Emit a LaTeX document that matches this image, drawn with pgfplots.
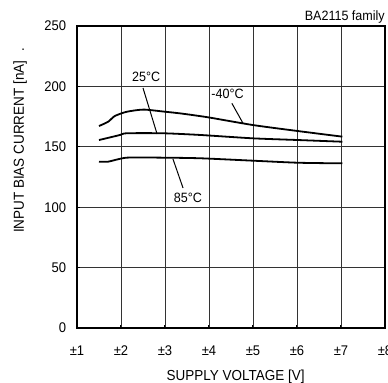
\documentclass[border=0pt]{standalone}
\usepackage{fontspec}
\setmainfont[FakeStretch=0.93]{Liberation Sans}
\usepackage{pgfplots}
\pgfplotsset{compat=1.18}
\begin{document}
\begin{tikzpicture}
\fontsize{14bp}{16bp}\selectfont
\path[use as bounding box] (-77bp,-55bp) rectangle (311bp,328bp);
\begin{axis}[
  at={(0,0)}, anchor=origin,
  scale only axis,
  width=308bp, height=302bp,
  xmin=1, xmax=8, ymin=0, ymax=250,
  xtick={1,2,3,4,5,6,7,8},
  xticklabels={±1,±2,±3,±4,±5,±6,±7,±8},
  ytick={0,50,100,150,200,250},
  /pgf/number format/assume math mode=true,
  grid=major,
  major grid style={black!80, line width=0.7bp},
  axis line style={line width=1.8bp},
  tick style={black, line width=1bp},
  tick align=inside,
  major tick length=3bp,
  xtick pos=bottom, ytick pos=left,
  tick label style={font=\fontsize{14bp}{16bp}\selectfont},
  label style={font=\fontsize{14.5bp}{16bp}\selectfont},
  xticklabel style={yshift=-13bp},
  yticklabel style={xshift=-6bp},
  xlabel={SUPPLY VOLTAGE [V]},
  ylabel={INPUT BIAS CURRENT [nA]},
  xlabel style={at={(axis description cs:0.515,-0.163)}, anchor=center},
  ylabel style={at={(axis description cs:-0.185,0.6)}, anchor=center},
  clip=false,
]
% -40 C
\addplot[black, line width=1.8bp, smooth, tension=0.4] coordinates {
(1.5,167.2) (1.71,170.8) (1.86,175.5) (2.13,179) (2.51,180.8) (2.96,179.2) (3.38,177.5) (3.98,174.4) (5.0,168) (6.03,163) (7.03,158.4)};
% 25 C
\addplot[black, line width=1.8bp, smooth, tension=0.4] coordinates {
(1.5,155.6) (1.98,159.8) (2.13,161.2) (2.96,161.2) (3.8,159.8) (5.0,157) (6.03,155.6) (7.03,154.2)};
% 85 C
\addplot[black, line width=1.8bp, smooth, tension=0.4] coordinates {
(1.5,137.7) (1.71,137.7) (2.13,141) (2.96,141) (3.8,140.5) (5.0,138.5) (6.03,136.8) (7.03,136.3)};
% annotations
\node[font=\fontsize{13.5bp}{15bp}\selectfont] at (axis cs:2.57,207.8) {25°C};
\draw[black, line width=1bp] (axis cs:2.5,198.7) -- (axis cs:2.82,160.6);
\node[font=\fontsize{13.5bp}{15bp}\selectfont] at (axis cs:4.42,193.5) {-40°C};
\draw[black, line width=1bp] (axis cs:4.52,186) -- (axis cs:4.77,169.7);
\node[font=\fontsize{13.5bp}{15bp}\selectfont] at (axis cs:3.52,107.6) {85°C};
\draw[black, line width=1bp] (axis cs:3.18,140) -- (axis cs:3.41,115.9);
\node[anchor=base east, inner sep=0pt, font=\fontsize{13.5bp}{15bp}\selectfont] at ([yshift=5bp]axis description cs:1,1) {BA2115 family};
\node[inner sep=0pt] at (axis description cs:-0.175,0.92) {.};
\end{axis}
\end{tikzpicture}
\end{document}
